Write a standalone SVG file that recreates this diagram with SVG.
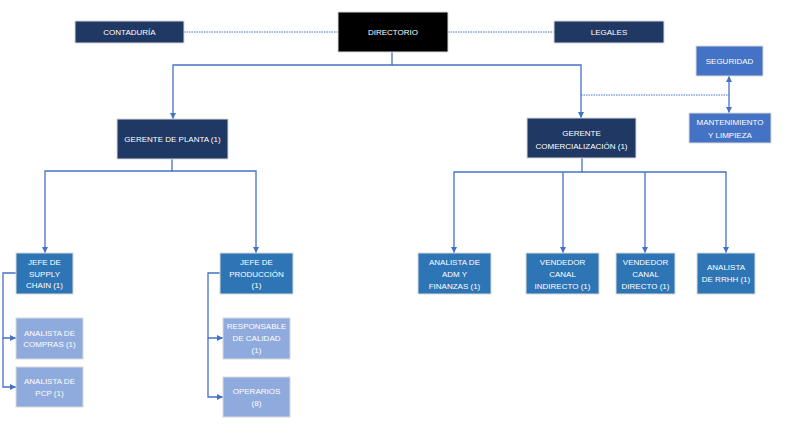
<svg xmlns="http://www.w3.org/2000/svg" width="800" height="439" viewBox="0 0 800 439">
<defs>
<marker id="arr" viewBox="0 0 10 10" refX="10" refY="5" markerWidth="6" markerHeight="6" markerUnits="userSpaceOnUse" orient="auto-start-reverse">
<path d="M0,0 L10,5 L0,10 z" fill="#4472C4"/>
</marker>
<style>
.b{stroke:#D9D9D9;stroke-width:1}
.navy{fill:#203864}
.mid{fill:#2E75B6}
.light{fill:#8FAADC}
.sb{fill:#4472C4}
text{font-family:"Liberation Sans",Arial,sans-serif;font-size:8px;fill:#FFFFFF;text-anchor:middle}
.c{fill:none;stroke:#4472C4;stroke-width:1.3}
.d{fill:none;stroke:#4472C4;stroke-width:1;stroke-dasharray:1.5,1}
</style>
</defs>
<rect width="800" height="439" fill="#FFFFFF"/>
<g id="connectors">
<path class="d" d="M184,32 H338"/>
<path class="d" d="M448,32 H554"/>
<path class="c" d="M392,52 V65 H173 V119" marker-end="url(#arr)"/>
<path class="c" d="M392,65 H581 V118" marker-end="url(#arr)"/>
<path class="d" d="M581,95 H729"/>
<path class="c" d="M729,95 V76" marker-end="url(#arr)"/>
<path class="c" d="M729,95 V113" marker-end="url(#arr)"/>
<path class="c" d="M172,159 V171 H45 V253" marker-end="url(#arr)"/>
<path class="c" d="M172,171 H256 V253" marker-end="url(#arr)"/>
<path class="c" d="M16,273 H3 V338 H16" marker-end="url(#arr)"/>
<path class="c" d="M3,338 V387 H16" marker-end="url(#arr)"/>
<path class="c" d="M220,273 H208 V338 H223" marker-end="url(#arr)"/>
<path class="c" d="M208,338 V397 H223" marker-end="url(#arr)"/>
<path class="c" d="M582,158 V172 H454 V253" marker-end="url(#arr)"/>
<path class="c" d="M582,172 H726 V253" marker-end="url(#arr)"/>
<path class="c" d="M563,172 V253" marker-end="url(#arr)"/>
<path class="c" d="M645,172 V253" marker-end="url(#arr)"/>
</g>
<g id="contaduria"><rect class="b navy" x="75" y="21" width="109" height="22"/><text x="129.5" y="35">CONTADURÍA</text></g>
<g id="directorio"><rect class="b" fill="#000000" x="338" y="12" width="110" height="40"/><text x="393" y="35">DIRECTORIO</text></g>
<g id="legales"><rect class="b navy" x="554" y="21" width="110" height="22"/><text x="609" y="35">LEGALES</text></g>
<g id="seguridad"><rect class="b sb" x="696" y="46" width="67" height="30"/><text x="729.5" y="64">SEGURIDAD</text></g>
<g id="mantenimiento"><rect class="b sb" x="689" y="113" width="82" height="30"/><text x="730" y="125">MANTENIMIENTO</text><text x="730" y="138">Y LIMPIEZA</text></g>
<g id="gerente-planta"><rect class="b navy" x="117" y="119" width="111" height="40"/><text x="172.5" y="142">GERENTE DE PLANTA (1)</text></g>
<g id="gerente-comercializacion"><rect class="b navy" x="527" y="118" width="109" height="40"/><text x="581.5" y="136">GERENTE</text><text x="581.5" y="149">COMERCIALIZACIÓN (1)</text></g>
<g id="jefe-supply"><rect class="b mid" x="16" y="253" width="57" height="41"/><text x="44.5" y="265">JEFE DE</text><text x="44.5" y="277">SUPPLY</text><text x="44.5" y="288">CHAIN (1)</text></g>
<g id="jefe-produccion"><rect class="b mid" x="220" y="253" width="73" height="41"/><text x="256.5" y="265">JEFE DE</text><text x="256.5" y="277">PRODUCCIÓN</text><text x="256.5" y="288">(1)</text></g>
<g id="analista-compras"><rect class="b light" x="16" y="318" width="67" height="41"/><text x="49.5" y="336">ANALISTA DE</text><text x="49.5" y="347">COMPRAS (1)</text></g>
<g id="analista-pcp"><rect class="b light" x="16" y="367" width="67" height="40"/><text x="49.5" y="384">ANALISTA DE</text><text x="49.5" y="396">PCP (1)</text></g>
<g id="responsable-calidad"><rect class="b light" x="223" y="318" width="67" height="41"/><text x="256.5" y="329">RESPONSABLE</text><text x="256.5" y="341">DE CALIDAD</text><text x="256.5" y="353">(1)</text></g>
<g id="operarios"><rect class="b light" x="223" y="377" width="67" height="40"/><text x="256.5" y="394">OPERARIOS</text><text x="256.5" y="406">(8)</text></g>
<g id="analista-adm"><rect class="b mid" x="418" y="253" width="73" height="41"/><text x="454.5" y="265">ANALISTA DE</text><text x="454.5" y="277">ADM Y</text><text x="454.5" y="289">FINANZAS (1)</text></g>
<g id="vendedor-indirecto"><rect class="b mid" x="526" y="253" width="73" height="41"/><text x="562.5" y="265">VENDEDOR</text><text x="562.5" y="277">CANAL</text><text x="562.5" y="289">INDIRECTO (1)</text></g>
<g id="vendedor-directo"><rect class="b mid" x="616" y="253" width="59" height="41"/><text x="645.5" y="265">VENDEDOR</text><text x="645.5" y="277">CANAL</text><text x="645.5" y="289">DIRECTO (1)</text></g>
<g id="analista-rrhh"><rect class="b mid" x="697" y="253" width="58" height="41"/><text x="726" y="270">ANALISTA</text><text x="726" y="282">DE RRHH (1)</text></g>
</svg>
